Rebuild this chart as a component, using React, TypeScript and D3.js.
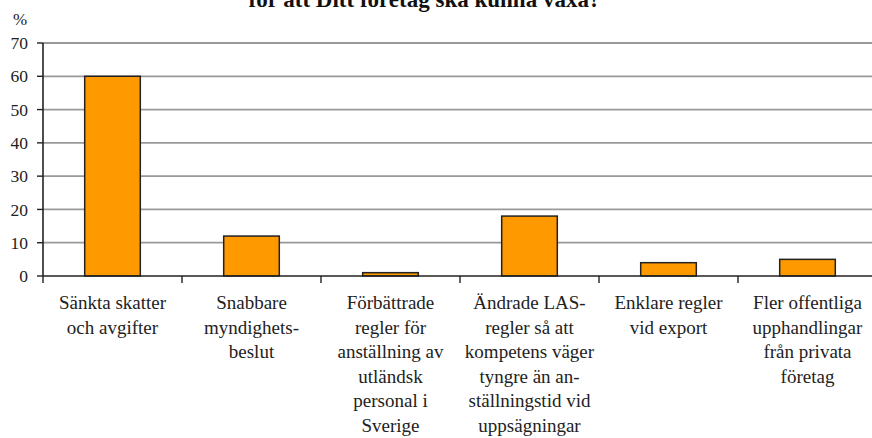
import React from "react";
import * as d3 from "d3";

const titleText = "för att Ditt företag ska kunna växa?";
const yUnit = "%";
const categories = [
  ["Sänkta skatter", "och avgifter"],
  ["Snabbare", "myndighets-", "beslut"],
  ["Förbättrade", "regler för", "anställning av", "utländsk", "personal i", "Sverige"],
  ["Ändrade LAS-", "regler så att", "kompetens väger", "tyngre än an-", "ställningstid vid", "uppsägningar"],
  ["Enklare regler", "vid export"],
  ["Fler offentliga", "upphandlingar", "från privata", "företag"],
];
const values = [60, 12, 1, 18, 4, 5];
const yTicks = [0, 10, 20, 30, 40, 50, 60, 70];

export default function App() {
  const W = 872, H = 438;
  const left = 43, right = 877, top = 43, bottom = 276;
  const keys = categories.map((c) => c.join(" "));
  const x = d3.scaleBand<string>().domain(keys).range([left, right]).paddingInner(0.6).paddingOuter(0.3);
  const y = d3.scaleLinear().domain([0, 70]).range([bottom, top]);
  const step = x.step();
  const font = "Liberation Serif, Times New Roman, serif";
  return (
    <svg width={W} height={H} style={{ position: "absolute", left: 0, top: 0, background: "#fff" }} fontFamily={font}>
      <text x={424.5} y={7} textAnchor="middle" fontSize={23} fontWeight="bold" fill="#111">{titleText}</text>
      <text x={20} y={25} textAnchor="middle" fontSize={17} fill="#222">{yUnit}</text>
      {yTicks.map((t) => (
        <g key={t}>
          {t > 0 && <line x1={left} x2={W} y1={y(t)} y2={y(t)} stroke="#999" strokeWidth={1.8} />}
          <line x1={left - 6} x2={left} y1={y(t)} y2={y(t)} stroke="#222" strokeWidth={1.4} />
          <text x={28} y={y(t)} dy="0.35em" textAnchor="end" fontSize={17.5} fill="#222">{t}</text>
        </g>
      ))}
      {keys.map((k, i) => (
        <rect key={k} x={x(k)} y={y(values[i])} width={x.bandwidth()} height={bottom - y(values[i])}
          fill="#FF9900" stroke="#222" strokeWidth={1.5} />
      ))}
      <line x1={left} x2={left} y1={top} y2={bottom} stroke="#222" strokeWidth={1.6} />
      <line x1={left} x2={W} y1={bottom} y2={bottom} stroke="#222" strokeWidth={1.6} />
      {keys.map((k, i) => {
        const bx = (x(k) as number) - (step * 0.6) / 2;
        return <line key={"t" + i} x1={bx} x2={bx} y1={bottom} y2={bottom + 7} stroke="#222" strokeWidth={1.4} />;
      })}
      {categories.map((lines, i) => {
        const cx = (x(keys[i]) as number) + x.bandwidth() / 2;
        return (
          <text key={"c" + i} x={cx} textAnchor="middle" fontSize={19} fill="#222">
            {lines.map((ln, j) => (
              <tspan key={j} x={cx} y={309 + j * 24.5}>{ln}</tspan>
            ))}
          </text>
        );
      })}
    </svg>
  );
}
